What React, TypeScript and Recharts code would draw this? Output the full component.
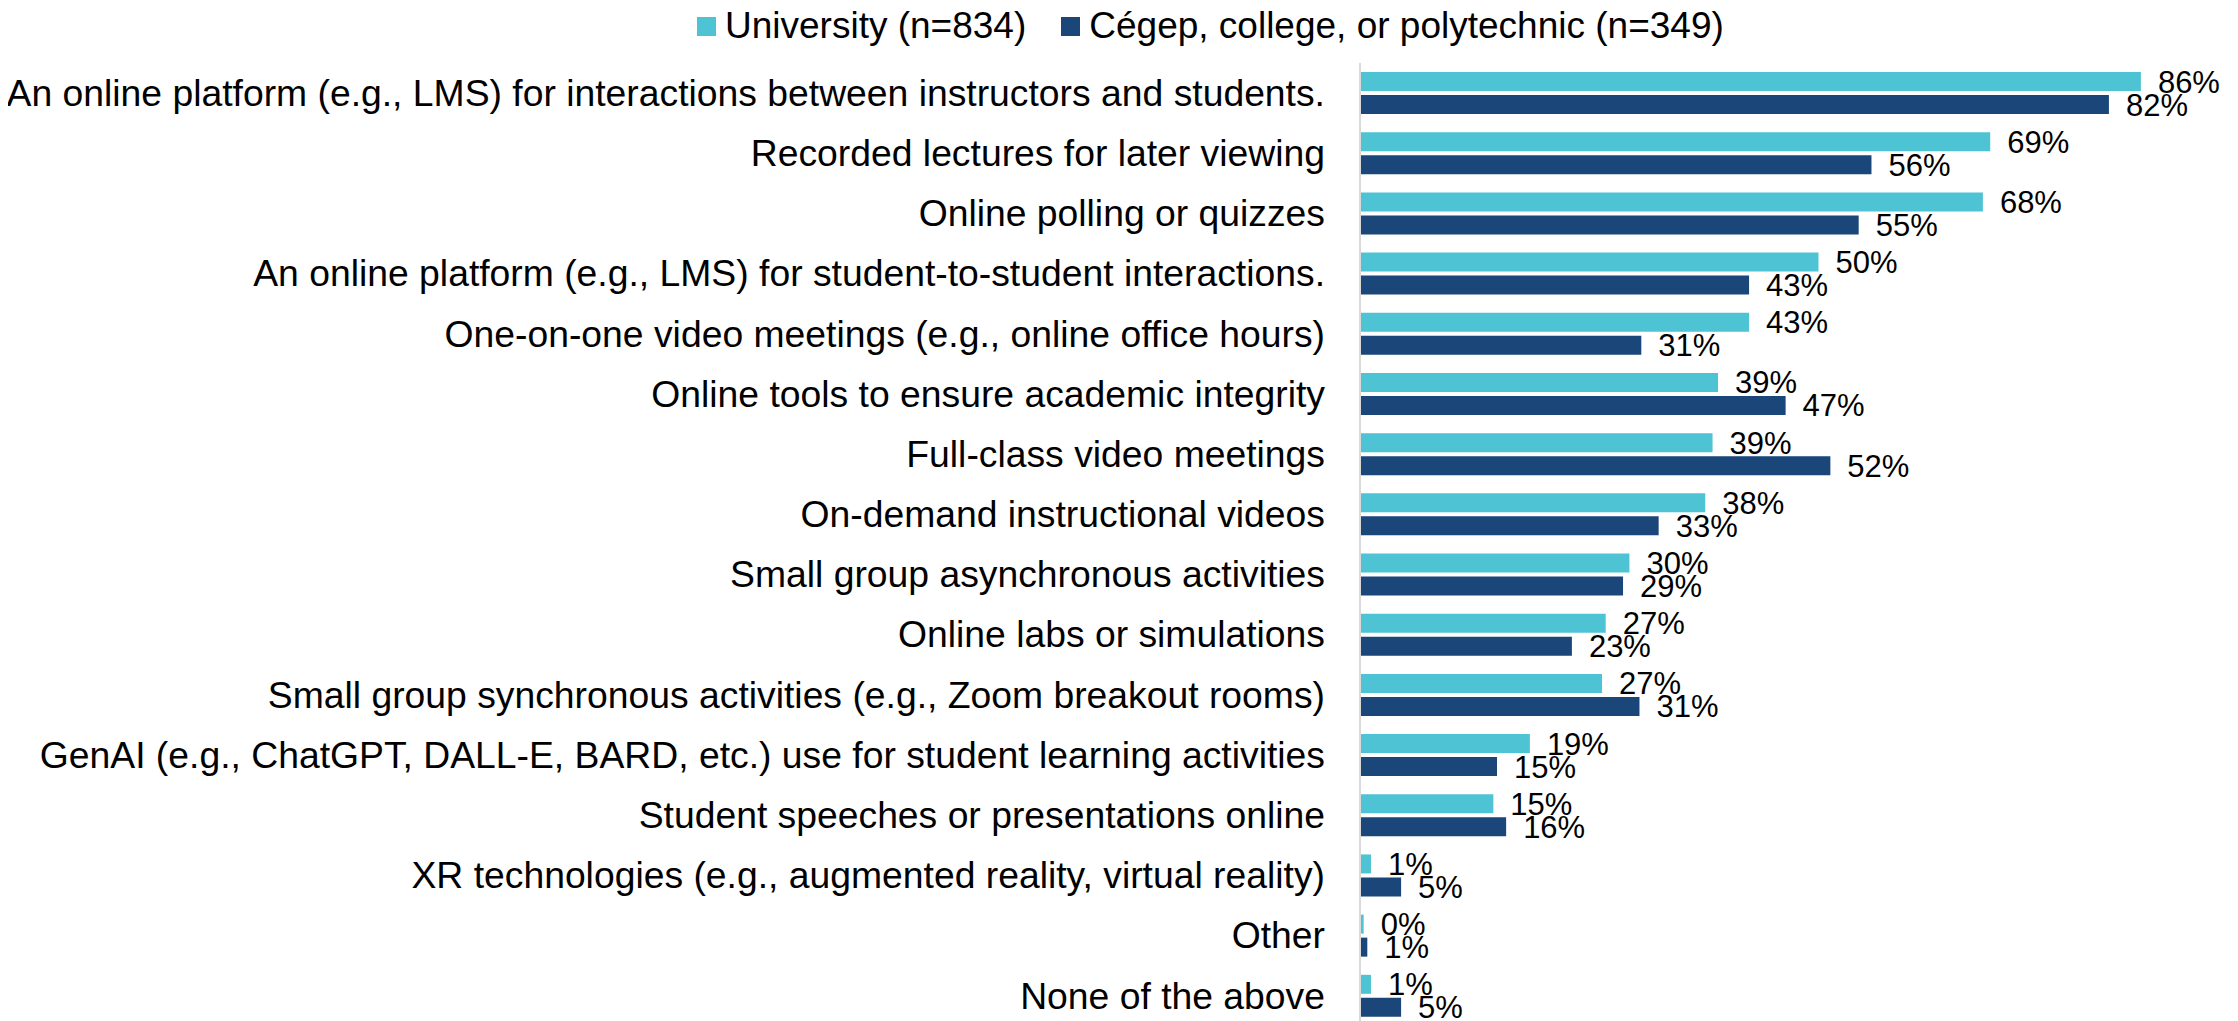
import React from "react";
import { BarChart, Bar, XAxis, YAxis, LabelList } from "recharts";

const CATEGORIES = [
    "An online platform (e.g., LMS) for interactions between instructors and students.",
    "Recorded lectures for later viewing",
    "Online polling or quizzes",
    "An online platform (e.g., LMS) for student-to-student interactions.",
    "One-on-one video meetings (e.g., online office hours)",
    "Online tools to ensure academic integrity",
    "Full-class video meetings",
    "On-demand instructional videos",
    "Small group asynchronous activities",
    "Online labs or simulations",
    "Small group synchronous activities (e.g., Zoom breakout rooms)",
    "GenAI (e.g., ChatGPT, DALL-E, BARD, etc.) use for student learning activities",
    "Student speeches or presentations online",
    "XR technologies (e.g., augmented reality, virtual reality)",
    "Other",
    "None of the above"
];

const UNIVERSITY = [85.5, 69.0, 68.2, 50.2, 42.6, 39.2, 38.6, 37.8, 29.5, 26.9, 26.5, 18.6, 14.6, 1.2, 0.4, 1.2];
const COLLEGE = [82.0, 56.0, 54.6, 42.6, 30.8, 46.6, 51.5, 32.7, 28.8, 23.2, 30.6, 15.0, 16.0, 4.5, 0.8, 4.5];

const SERIES = [
    { key: "university", name: "University (n=834)", color: "#4EC3D3" },
    { key: "college", name: "Cégep, college, or polytechnic (n=349)", color: "#1A4679" }
];

const FONT = "'Liberation Sans', Arial, sans-serif";

const data = CATEGORIES.map((name, i) => ({
    name,
    university: UNIVERSITY[i],
    college: COLLEGE[i]
}));

const CategoryTick = (props: any) => {
    const { x, y, payload } = props;
    return (
        <text x={x} y={y} dy="0.34em" textAnchor="end" fontSize={37.3} fontFamily={FONT} fill="#000">
            {payload.value}
        </text>
    );
};

const App = () => {
    return (
        <div style={{ position: "relative", width: 2222, fontFamily: FONT }}>
            <div style={{ position: "absolute", left: 689, top: -3, display: "flex", alignItems: "center", height: 42, zIndex: 1 }}>
                {SERIES.map((s, i) => (
                    <div key={s.key} style={{ display: "flex", alignItems: "center", marginLeft: i ? 35 : 0 }}>
                        <div style={{ width: 19, height: 19, background: s.color, marginRight: 9 }} />
                        <span style={{ fontSize: 37, color: "#000", whiteSpace: "nowrap" }}>{s.name}</span>
                    </div>
                ))}
            </div>
            <div style={{ width: 2222, height: 1013, overflow: "hidden" }}>
                <BarChart
                    width={2222}
                    height={1030}
                    data={data}
                    layout="vertical"
                    barSize={19}
                    barGap={4}
                    margin={{ top: 55, right: 48, left: 0, bottom: 12 }}>
                    <XAxis type="number" domain={[0, 90]} hide />
                    <YAxis
                        type="category"
                        dataKey="name"
                        width={1352}
                        interval={0}
                        tickLine={false}
                        tickSize={0}
                        tickMargin={35}
                        axisLine={{ stroke: "#D9D9D9", strokeWidth: 2 }}
                        tick={<CategoryTick />}
                    />
                    {SERIES.map((s) => (
                        <Bar key={s.key} dataKey={s.key} name={s.name} fill={s.color} isAnimationActive={false}>
                            <LabelList
                                dataKey={s.key}
                                position="right"
                                offset={17}
                                fontSize={31}
                                fontFamily={FONT}
                                fill="#000"
                                formatter={(v: any) => `${Math.round(Number(v))}%`}
                            />
                        </Bar>
                    ))}
                </BarChart>
            </div>
        </div>
    );
};

export default App;
